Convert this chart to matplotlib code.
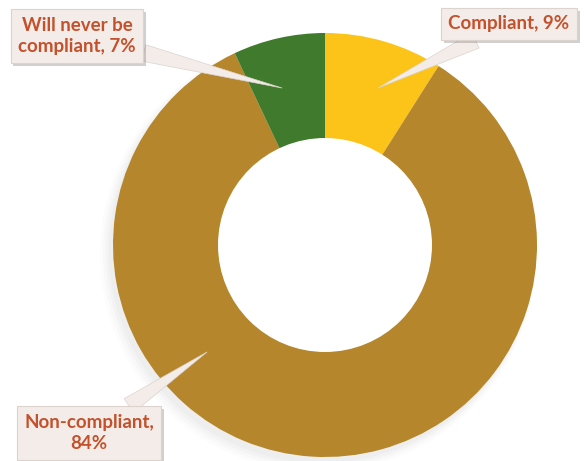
import matplotlib.pyplot as plt
import matplotlib.patheffects as pe
from matplotlib.patches import Circle

# Data
labels = ['Compliant', 'Non-compliant', 'Will never be compliant']
label_text = ['Compliant, 9%', 'Non-compliant,\n84%', 'Will never be\ncompliant, 7%']
values = [9, 84, 7]
colors = ['#FCC418', '#B5862B', '#3F7A2D']

W, H = 584, 461
fig = plt.figure(figsize=(W / 100, H / 100), dpi=100)
ax = fig.add_axes([0, 0, 1, 1])

cx, cy, r = 325, 216, 212

# soft drop shadow under the ring
for i, a in enumerate([0.025, 0.03, 0.035, 0.04]):
    ax.add_patch(Circle((cx - 7 + i, cy - 9 + i), r + 6 - 2 * i,
                        facecolor='#808080', alpha=a, lw=0, zorder=0))

ax.pie(values, colors=colors, startangle=90, counterclock=False,
       radius=r, center=(cx, cy),
       wedgeprops=dict(width=r * 0.5, linewidth=0))
ax.add_patch(Circle((cx, cy), r * 0.5 + 1, facecolor='white', lw=0, zorder=5))
ax.set_xlim(0, W)
ax.set_ylim(0, H)
ax.axis('off')

# callout label positions (text centre) and pointer tips
text_pos = [(509, 437), (89, 28), (77, 425)]
tips = [(378, 373), (207, 109), (282, 373)]

for txt, pos, tip in zip(label_text, text_pos, tips):
    t = ax.annotate(txt, xy=tip, xytext=pos, ha='center', va='center',
                    fontsize=13.5, fontweight='bold', color='#C4512B',
                    family=['Lato', 'DejaVu Sans'], linespacing=1.35,
                    bbox=dict(boxstyle='square,pad=0.4', facecolor='#F4ECE8',
                              edgecolor='#DCD3CE', linewidth=0.8),
                    zorder=10,
                    arrowprops=dict(arrowstyle='wedge,tail_width=0.9,shrink_factor=0.5',
                                    facecolor='#F4ECE8', edgecolor='#DCD3CE',
                                    linewidth=0.5, shrinkA=0, shrinkB=0))
    t.get_bbox_patch().set_path_effects(
        [pe.SimplePatchShadow(offset=(2, -2), alpha=0.25), pe.Normal()])

fig.savefig('out.png', dpi=100)
